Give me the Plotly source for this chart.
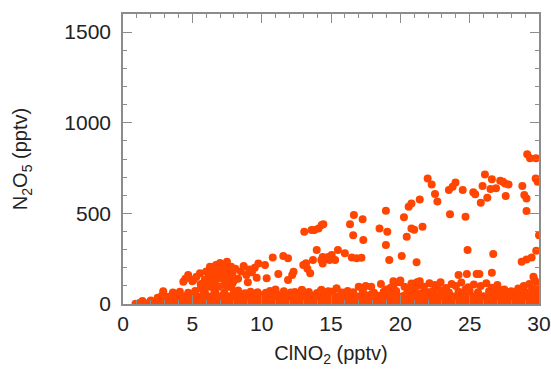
import plotly.graph_objects as go

# ---- dense low band (ClNO2, N2O5) ----
band_x = [
    0.9, 1.2, 1.55, 1.9, 2.2, 2.55, 2.9, 3.2, 3.6, 3.95,
    4.3, 4.6, 5.0, 5.35, 5.7, 6.05, 6.4, 6.75, 7.1, 7.45,
    7.8, 8.15, 8.5, 8.9, 9.25, 9.6, 9.95, 10.3, 10.65, 11.0,
    11.4, 11.75, 12.1, 12.45, 12.8, 13.15, 13.5, 13.9, 14.25, 14.6,
    14.95, 15.3, 15.7, 16.05, 16.4, 16.75, 17.1, 17.45, 17.85, 18.2,
    18.55, 18.9, 19.25, 19.6, 20.0, 20.35, 20.7, 21.05, 21.4, 21.8,
    22.15, 22.5, 22.85, 23.2, 23.6, 23.95, 24.3, 24.65, 25.0, 25.4,
    25.75, 26.1, 26.45, 26.8, 27.2, 27.55, 27.9, 28.25, 28.6, 29.0,
    29.35, 29.7, 30.0,
    1.4, 2.0, 2.6, 3.1, 3.5, 3.85, 4.2, 4.55, 4.9, 5.25,
    5.6, 5.95, 6.3, 6.65, 7.0, 7.35, 7.7, 8.05, 8.4, 8.75,
    9.1, 9.45, 9.8, 10.15, 10.5, 10.85, 11.2, 11.55, 11.9, 12.25,
    12.6, 12.95, 13.3, 13.65, 14.0, 14.4, 14.75, 15.1, 15.45, 15.85,
    16.2, 16.55, 16.9, 17.25, 17.6, 18.0, 18.35, 18.7, 19.05, 19.4,
    19.8, 20.15, 20.5, 20.85, 21.2, 21.6, 21.95, 22.3, 22.65, 23.0,
    23.4, 23.75, 24.1, 24.45, 24.8, 25.2, 25.55, 25.9, 26.25, 26.6,
    27.0, 27.35, 27.7, 28.05, 28.4, 28.75, 29.1, 29.45, 29.8,
    2.5, 3.05, 3.6, 4.15, 4.6, 5.05, 5.55, 6.0, 6.45, 6.95,
    7.4, 7.85, 8.35, 8.8, 9.25, 9.75, 10.2, 10.65, 11.1, 11.55,
    12.05, 12.5, 12.95, 13.45, 13.9, 14.4, 14.85, 15.35, 15.8, 16.25,
    16.75, 17.25, 17.7, 18.15, 18.65, 19.1, 19.5, 19.95, 20.4, 20.85,
    21.3, 21.75, 22.2, 22.65, 23.1, 23.55, 24.0, 24.45, 24.9, 25.35,
    25.8, 26.25, 26.7, 27.15, 27.6, 28.05, 28.5, 28.95, 29.4, 29.8,
    2.8, 3.3, 3.9, 4.4, 4.8, 5.3, 5.8, 6.2, 6.7, 7.2,
    7.6, 8.1, 8.6, 9.0, 9.5, 10.0, 10.4, 10.9, 11.3, 11.8,
    12.3, 12.7, 13.2, 13.7, 14.2, 14.6, 15.1, 15.6, 16.0, 16.5,
    17.0, 17.5, 17.9, 18.4, 18.9, 19.3, 19.7, 20.2, 20.6, 21.1,
    21.5, 22.0, 22.4, 22.9, 23.3, 23.8, 24.2, 24.7, 25.1, 25.6,
    26.0, 26.5, 26.9, 27.4, 27.8, 28.3, 28.7, 29.2, 29.6, 30.0,
    4.7, 5.9, 6.6, 7.3, 8.0, 8.8, 9.7, 10.3, 11.6, 12.1,
    13.4, 14.0, 15.0, 15.8, 16.6, 17.3, 18.1, 18.8, 19.7, 20.5,
    21.0, 21.9, 22.3, 23.5, 24.2, 25.0, 25.6, 26.4, 27.1, 27.9,
    28.4, 29.0, 29.6,
    2.9, 3.6, 4.1, 5.2, 5.6, 6.3, 6.9, 7.6, 7.8, 8.3,
    9.2, 10.6, 11.0, 12.4, 12.9, 14.3, 14.8, 15.4, 16.2, 17.0,
    17.5, 17.9, 18.6, 19.0, 19.5, 19.9, 20.3, 20.8, 21.2, 21.4,
    21.7, 22.1, 22.5, 22.9, 23.3, 23.7, 24.0, 24.4, 24.9, 25.3,
    25.8, 26.2, 26.6, 27.0, 27.5, 28.0, 28.5, 28.9, 29.3, 29.7,
    19.3, 23.0, 24.7, 27.3, 29.9, 29.5, 30.0, 20.6, 22.7, 26.9,
]
band_y = [
    2, 6, 3, 8, 4, 10, 5, 9, 3, 11,
    6, 2, 9, 4, 12, 3, 7, 10, 2, 8,
    5, 11, 3, 7, 9, 2, 6, 12, 4, 8,
    3, 9, 6, 2, 10, 5, 8, 3, 11, 6,
    2, 7, 10, 4, 8, 3, 12, 6, 2, 9,
    5, 11, 3, 7, 2, 10, 6, 4, 9, 3,
    8, 4, 11, 2, 7, 5, 10, 3, 8, 6,
    2, 9, 5, 11, 3, 7, 4, 10, 6, 2,
    8, 4, 10,
    16, 20, 24, 28, 22, 30, 26, 19, 31, 24,
    29, 21, 27, 32, 23, 28, 20, 30, 25, 22,
    31, 24, 27, 20, 29, 33, 22, 26, 30, 19,
    25, 31, 22, 28, 24, 30, 20, 27, 32, 23,
    29, 21, 26, 33, 24, 28, 20, 31, 25, 30,
    22, 27, 32, 24, 29, 20, 31, 26, 23, 30,
    25, 33, 21, 28, 30, 24, 27, 32, 22, 29,
    26, 20, 31, 24, 28, 33, 22, 30, 27,
    34, 38, 36, 40, 35, 42, 37, 39, 41, 36,
    38, 35, 43, 37, 40, 36, 39, 42, 35, 38,
    41, 36, 39, 37, 44, 35, 40, 38, 36, 42,
    37, 39, 35, 41, 38, 36, 43, 37, 40, 35,
    39, 42, 36, 38, 41, 35, 40, 37, 43, 36,
    39, 38, 42, 35, 40, 37, 36, 41, 38, 39,
    45, 40, 48, 42, 52, 44, 50, 41, 55, 46,
    43, 50, 47, 53, 40, 48, 56, 44, 51, 42,
    49, 54, 41, 47, 52, 45, 58, 43, 50, 55,
    42, 48, 53, 46, 40, 57, 50, 44, 55, 49,
    60, 45, 52, 48, 58, 42, 54, 50, 46, 57,
    43, 51, 47, 55, 40, 49, 53, 45, 58, 50,
    62, 66, 70, 63, 68, 60, 65, 62, 70, 64,
    66, 61, 68, 63, 65, 70, 62, 67, 72, 64,
    75, 66, 70, 63, 68, 72, 65, 70, 62, 66,
    60, 68, 74,
    70, 64, 68, 72, 86, 95, 95, 95, 95, 75,
    68, 72, 80, 66, 77, 77, 70, 86, 72, 95,
    100, 95, 110, 80, 105, 120, 95, 113, 100, 125,
    95, 115, 105, 120, 88, 110, 100, 118, 92, 108,
    100, 115, 90, 105, 80, 70, 85, 100, 110, 130,
    90, 75, 80, 75, 115, 85, 90, 80, 85, 70,
]

# ---- plume around 4-10 pptv ClNO2 ----
plume_x = [
    4.35, 4.7, 4.5, 5.0, 5.3, 5.55, 5.6, 5.9, 6.0, 6.2,
    6.27, 6.4, 6.5, 6.6, 6.7, 6.8, 6.9, 7.0, 7.1, 7.2,
    7.3, 7.4, 7.5, 7.6, 7.7, 7.8, 7.9, 8.1, 8.3, 8.5,
    8.7, 8.9, 9.1, 9.3, 9.5, 9.76, 10.24, 9.64, 10.36, 9.0,
    6.1, 6.6, 7.3, 7.9, 5.1, 8.0,
]
plume_y = [
    123, 160, 140, 125, 150, 170, 110, 135, 180, 160,
    206, 125, 190, 150, 215, 175, 140, 226, 200, 165,
    210, 130, 233, 185, 150, 205, 170, 195, 140, 180,
    210, 160, 190, 175, 200, 224, 215, 145, 142, 120,
    100, 108, 105, 115, 135, 128,
]

# ---- scattered high points ----
high_x = [
    10.8, 11.56, 11.9, 11.9, 12.3, 12.2, 11.2, 13.0, 13.2, 13.3,
    13.5, 13.7, 13.97, 14.3, 14.4, 14.6, 14.8, 14.9, 14.4, 13.07,
    13.6, 13.8, 14.1, 14.33, 14.45, 12.9, 14.3, 15.4, 15.5, 15.05,
    15.3, 16.0, 16.5, 16.85, 17.2, 16.37, 16.6, 16.65, 17.28, 17.33,
    18.5, 18.96, 19.06, 18.96, 19.2, 20.1, 20.26, 20.46, 20.6, 20.8,
    20.8, 21.0, 21.17, 21.4, 21.6, 21.97, 22.26, 22.5, 22.67, 23.58,
    23.5, 23.77, 23.98, 24.5, 24.7, 24.85, 25.26, 25.4, 25.8, 25.93,
    26.1, 26.27, 26.6, 26.5, 26.7, 26.9, 27.2, 27.4, 27.6, 27.55,
    27.8, 28.8, 28.94, 29.1, 29.1, 29.15, 29.35, 29.78, 29.76, 29.9,
    30.0, 29.8, 29.47, 29.1, 28.75, 24.2, 24.8, 25.5, 25.7, 26.6,
    29.6, 21.2, 19.5, 20.0,
]
high_y = [
    257, 265, 253, 132, 178, 160, 165, 215, 225, 195,
    169, 243, 298, 243, 260, 250, 260, 243, 224, 399,
    408, 408, 417, 436, 440, 77, 77, 86, 298, 270,
    243, 280, 257, 252, 255, 440, 380, 491, 467, 353,
    417, 515, 399, 325, 243, 265, 478, 371, 537, 555,
    417, 410, 230, 577, 426, 693, 660, 607, 565, 495,
    629, 647, 671, 629, 482, 298, 616, 605, 559, 651,
    715, 586, 688, 635, 276, 638, 680, 675, 596, 665,
    660, 651, 601, 582, 513, 826, 804, 804, 693, 675,
    380, 294, 257, 245, 233, 160, 165, 165, 165, 173,
    151, 120, 125, 130,
]

x_vals = band_x + plume_x + high_x
y_vals = band_y + plume_y + high_y

x_ticks = [0, 5, 10, 15, 20, 25, 30]
y_ticks = [0, 500, 1000, 1500]

axis_color = "#8c8c8c"
text_color = "#222222"
font_family = "Liberation Sans, Arial, Helvetica, sans-serif"

fig = go.Figure(
    go.Scatter(
        x=x_vals,
        y=y_vals,
        mode="markers",
        marker=dict(size=8, color="#ff4500", line=dict(width=0)),
        cliponaxis=True,
        hoverinfo="x+y",
    )
)

common_axis = dict(
    showgrid=False,
    zeroline=False,
    showline=True,
    linecolor=axis_color,
    linewidth=1.5,
    mirror="ticks",
    ticks="inside",
    ticklen=9,
    tickwidth=1.2,
    tickcolor=axis_color,
    automargin=False,
    tickfont=dict(size=21, color=text_color, family=font_family),
)

fig.update_xaxes(
    **common_axis,
    range=[0, 30],
    tickvals=x_ticks,
    ticktext=[str(v) for v in x_ticks],
    minor=dict(ticks="inside", dtick=1, ticklen=4, tickcolor=axis_color, tickwidth=1),
    title=dict(text="ClNO<sub>2</sub> (pptv)", font=dict(size=20, color=text_color, family=font_family), standoff=12),
)
fig.update_yaxes(
    **common_axis,
    range=[0, 1600],
    tickvals=y_ticks,
    ticktext=[str(v) for v in y_ticks],
    ticklabelstandoff=6,
    minor=dict(ticks="inside", dtick=100, ticklen=4, tickcolor=axis_color, tickwidth=1),
    title=dict(text="N<sub>2</sub>O<sub>5</sub> (pptv)", font=dict(size=20, color=text_color, family=font_family), standoff=31),
)

fig.update_layout(
    width=551,
    height=381,
    margin=dict(l=123, r=12, t=14, b=77),
    paper_bgcolor="white",
    plot_bgcolor="white",
    showlegend=False,
    font=dict(family=font_family),
)

fig.write_html(
    "out.html",
    config={"displayModeBar": False},
    post_script="document.body.style.margin='0';document.body.style.overflow='hidden';",
)
